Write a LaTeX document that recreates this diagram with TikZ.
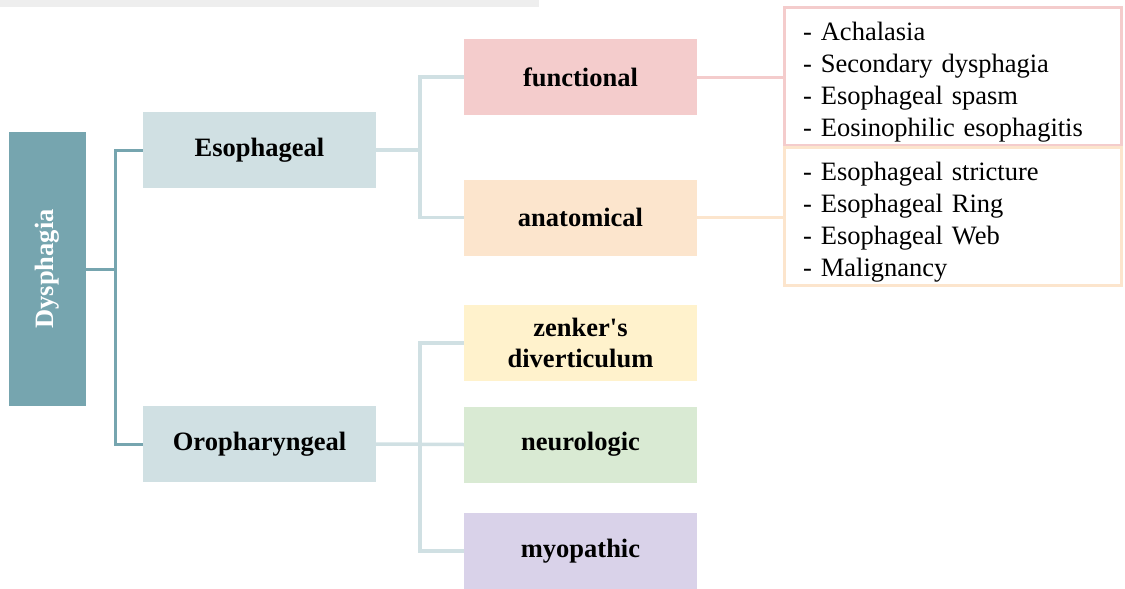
\documentclass[tikz,border=0pt]{standalone}
\usepackage{fontspec}
\setmainfont{Liberation Serif}
\definecolor{teal1}{HTML}{76A5AF}
\definecolor{teallight}{HTML}{D0E0E3}
\definecolor{pinkc}{HTML}{F4CCCC}
\definecolor{peachc}{HTML}{FCE5CD}
\definecolor{yellowc}{HTML}{FFF2CC}
\definecolor{greenc}{HTML}{D9EAD3}
\definecolor{purplec}{HTML}{D9D2E9}
\definecolor{barc}{HTML}{EEEEEE}
\begin{document}
\begin{tikzpicture}[x=1pt,y=-1pt,
  catbox/.style={rectangle, minimum width=233pt, minimum height=76pt, inner sep=0pt, align=center,
    font=\fontsize{26.5}{31}\selectfont\bfseries},
  listbox/.style={rectangle, line width=3pt, minimum width=337pt, minimum height=138pt, inner sep=0pt},
  listtext/.style={text width=300pt, align=left, inner sep=0pt,
    font=\fontsize{26.5}{32}\selectfont},
  darkconn/.style={draw=teal1, line width=3pt},
  lightconn/.style={draw=teallight, line width=3.5pt}]
\useasboundingbox (0,0) rectangle (1125,589);
\fill[barc] (0,0) rectangle (539,7);

\node[rectangle, fill=teal1, minimum width=77pt, minimum height=274pt, inner sep=0pt] (dys) at (47.5,269) {};
\node[rotate=90, text=white, font=\fontsize{26.5}{31}\selectfont\bfseries] (dyst) at (dys.center) {Dysphagia};

\node[catbox, fill=teallight] (esoph) at (259.5,150) {Esophageal};
\node[catbox, fill=teallight] (oro) at (259.5,444) {Oropharyngeal};

\node[catbox, fill=pinkc] (func) at (580.5,77) {functional};
\node[catbox, fill=peachc] (anat) at (580.5,217.5) {anatomical};
\node[catbox, fill=yellowc] (zenk) at (580.5,343) {zenker\textquotesingle s\\diverticulum};
\node[catbox, fill=greenc] (neuro) at (580.5,444.5) {neurologic};
\node[catbox, fill=purplec] (myo) at (580.5,551) {myopathic};

\node[listbox, draw=pinkc] (flist) at (953,76.5) {};
\node[listbox, draw=peachc] (alist) at (953,216.5) {};
\node[listtext, anchor=west] (ftext) at ([xshift=20pt,yshift=-6pt]flist.west) {- Achalasia\\- Secondary dysphagia\\- Esophageal spasm\\- Eosinophilic esophagitis};
\node[listtext, anchor=west] (atext) at ([xshift=20pt,yshift=-6pt]alist.west) {- Esophageal stricture\\- Esophageal Ring\\- Esophageal Web\\- Malignancy};

\coordinate (j1) at (115,269);
\coordinate (j2) at (420,150);
\coordinate (j3) at (420,444.5);

\draw[darkconn] (dys.east) -- (j1);
\draw[darkconn] (esoph.west) -| (j1) |- (oro.west);

\draw[lightconn] (esoph.east) -- (j2);
\draw[lightconn] (func.west) -| (j2) |- (anat.west);

\draw[lightconn] (oro.east) -- (neuro.west);
\draw[lightconn] (zenk.west) -| (j3) |- (myo.west);

\draw[draw=pinkc, line width=3pt] (func.east) -- (flist.west |- func.east);
\draw[draw=peachc, line width=3pt] (anat.east) -- (alist.west |- anat.east);
\end{tikzpicture}
\end{document}
